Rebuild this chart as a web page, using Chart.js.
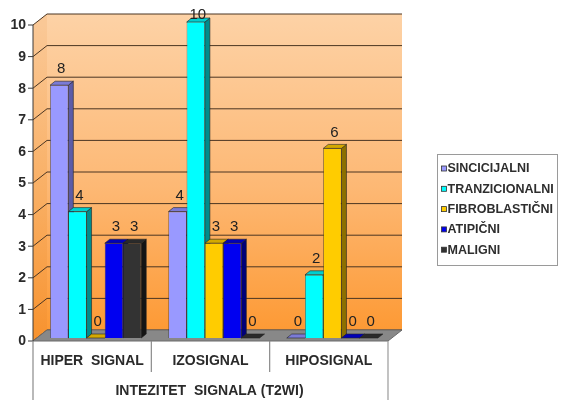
<!DOCTYPE html>
<html>
<head>
<meta charset="utf-8">
<script src="https://cdn.jsdelivr.net/npm/chart.js@4/dist/chart.umd.min.js"></script>
<style>
  html, body { margin: 0; padding: 0; background: #ffffff; }
  #wrap { width: 561px; height: 400px; }
</style>
</head>
<body>
<div id="wrap"><canvas id="c" width="561" height="400"></canvas></div>
<script>
// Categories, series and axis labels
const categories = ['HIPER  SIGNAL', 'IZOSIGNAL', 'HIPOSIGNAL'];
const seriesNames = ['SINCICIJALNI', 'TRANZICIONALNI', 'FIBROBLASTIČNI', 'ATIPIČNI', 'MALIGNI'];
const sincicijalni   = [8, 4, 0];
const tranzicionalni = [4, 10, 2];
const fibroblasticni = [0, 3, 6];
const atipicni       = [3, 3, 0];
const maligni        = [3, 0, 0];
const yTicks = [0, 1, 2, 3, 4, 5, 6, 7, 8, 9, 10];
const axisTitle = 'INTEZITET  SIGNALA (T2WI)';

// Face colours per series: front, top, side
const palette = [
  { front: '#9999FF', top: '#7B7BD6', side: '#5C5CA8' },
  { front: '#00FFFF', top: '#00CFCF', side: '#008C8C' },
  { front: '#FFCC00', top: '#D4A900', side: '#8C7000' },
  { front: '#0000F0', top: '#0000B8', side: '#000078' },
  { front: '#333333', top: '#2A2A2A', side: '#141414' }
];

const seriesValues = [sincicijalni, tranzicionalni, fibroblasticni, atipicni, maligni];

// 3D scene geometry (offsets relative to the bar plane)
const FRONT = { dx: -3.5, dy: 3 };
const BACK  = { dx: 10.5, dy: -8 };
const BAR_DEPTH = { dx: 5, dy: 4 };
const FONT = 'Arial, "Liberation Sans", sans-serif';

function poly(ctx, pts, fill, stroke, lw) {
  ctx.beginPath();
  ctx.moveTo(pts[0][0], pts[0][1]);
  for (let i = 1; i < pts.length; i++) ctx.lineTo(pts[i][0], pts[i][1]);
  ctx.closePath();
  if (fill) { ctx.fillStyle = fill; ctx.fill(); }
  if (stroke) { ctx.strokeStyle = stroke; ctx.lineWidth = lw || 1; ctx.stroke(); }
}

function line(ctx, x1, y1, x2, y2, color, lw) {
  ctx.beginPath();
  ctx.moveTo(x1, y1);
  ctx.lineTo(x2, y2);
  ctx.strokeStyle = color;
  ctx.lineWidth = lw || 1;
  ctx.stroke();
}

const scenePlugin = {
  id: 'scene3d',
  beforeDatasetsDraw(chart) {
    const ctx = chart.ctx;
    const area = chart.chartArea;
    const ys = chart.scales.y;
    const xs = chart.scales.x;
    const fy = v => ys.getPixelForValue(v) + FRONT.dy;
    const by = v => ys.getPixelForValue(v) + BACK.dy;
    const fxL = area.left + FRONT.dx, fxR = area.right + FRONT.dx;
    const bxL = area.left + BACK.dx,  bxR = area.right + BACK.dx;
    const yMax = yTicks[yTicks.length - 1];

    ctx.save();

    // back wall
    let g = ctx.createLinearGradient(0, by(yMax), 0, by(0));
    g.addColorStop(0, '#FDD2A6');
    g.addColorStop(0.55, '#FDB874');
    g.addColorStop(1, '#FD9A35');
    ctx.fillStyle = g;
    ctx.fillRect(bxL, by(yMax), bxR - bxL, by(0) - by(yMax));

    // left side wall
    g = ctx.createLinearGradient(0, fy(yMax), 0, fy(0));
    g.addColorStop(0, '#FAC896');
    g.addColorStop(0.55, '#F9AE62');
    g.addColorStop(1, '#F7922E');
    poly(ctx, [[fxL, fy(yMax)], [bxL, by(yMax)], [bxL, by(0)], [fxL, fy(0)]], g);

    // gridlines on both walls
    yTicks.forEach(v => {
      ctx.beginPath();
      ctx.moveTo(fxL, fy(v));
      ctx.lineTo(bxL, by(v));
      ctx.lineTo(bxR, by(v));
      ctx.strokeStyle = '#4A3522';
      ctx.lineWidth = 1;
      ctx.stroke();
    });

    // floor
    poly(ctx, [[fxL, fy(0)], [bxL, by(0)], [bxR, by(0)], [fxR, fy(0)]], '#888888', '#6A6A6A', 1);

    // value axis line, ticks and labels
    line(ctx, fxL, fy(yMax), fxL, fy(0), '#3A3A3A', 1);
    ctx.font = 'bold 14px ' + FONT;
    ctx.fillStyle = '#2A2A2A';
    ctx.textAlign = 'right';
    ctx.textBaseline = 'middle';
    yTicks.forEach(v => {
      line(ctx, fxL - 5, fy(v), fxL, fy(v), '#3A3A3A', 1);
      ctx.fillText(String(v), fxL - 7, fy(v) + 0.5);
    });

    // category frame below the floor
    const frameTop = fy(0);
    line(ctx, fxL, frameTop, fxL, 400, '#8A8A8A', 1.2);
    line(ctx, fxR, frameTop, fxR, 400, '#9A9A9A', 1.2);
    const step = (area.right - area.left) / categories.length;
    for (let i = 1; i < categories.length; i++) {
      const x = area.left + step * i + FRONT.dx;
      line(ctx, x, frameTop, x, frameTop + 31, '#8A8A8A', 1.2);
    }
    ctx.font = 'bold 14px ' + FONT;
    ctx.fillStyle = '#2A2A2A';
    ctx.textAlign = 'center';
    ctx.textBaseline = 'middle';
    categories.forEach((c, i) => {
      ctx.fillText(c, xs.getPixelForValue(i) + FRONT.dx, frameTop + 20);
    });
    ctx.fillText(axisTitle, (fxL + fxR) / 2 - 1, frameTop + 50);

    // side and top faces of every bar (front faces come from Chart.js)
    chart.data.datasets.forEach((ds, di) => {
      const meta = chart.getDatasetMeta(di);
      meta.data.forEach(bar => {
        const p = bar.getProps(['x', 'y', 'base', 'width'], true);
        const x0 = p.x - p.width / 2, x1 = p.x + p.width / 2;
        const top = Math.min(p.y, p.base), bottom = p.base;
        const c = palette[di];
        if (bottom - top > 0.5) {
          poly(ctx, [[x1, top], [x1 + BAR_DEPTH.dx, top - BAR_DEPTH.dy],
                     [x1 + BAR_DEPTH.dx, bottom - BAR_DEPTH.dy], [x1, bottom]],
               c.side, '#222222', 0.6);
        }
        poly(ctx, [[x0, top], [x1, top], [x1 + BAR_DEPTH.dx, top - BAR_DEPTH.dy],
                   [x0 + BAR_DEPTH.dx, top - BAR_DEPTH.dy]],
             c.top, '#222222', 0.6);
      });
    });
    ctx.restore();
  },
  afterDatasetsDraw(chart) {
    const ctx = chart.ctx;
    ctx.save();

    // value labels above the bars, kept inside the plot
    ctx.font = '15px ' + FONT;
    ctx.fillStyle = '#222222';
    ctx.textAlign = 'center';
    ctx.textBaseline = 'middle';
    chart.data.datasets.forEach((ds, di) => {
      const meta = chart.getDatasetMeta(di);
      meta.data.forEach((bar, i) => {
        const p = bar.getProps(['x', 'y', 'base'], true);
        const top = Math.min(p.y, p.base);
        ctx.fillText(String(ds.data[i]), p.x + 2, Math.max(top - 16, 15));
      });
    });

    // legend box
    const lx = 437.5, ly = 154.5, lw = 120, lh = 111;
    ctx.fillStyle = '#FFFFFF';
    ctx.fillRect(lx, ly, lw, lh);
    ctx.strokeStyle = '#9A9A9A';
    ctx.lineWidth = 1;
    ctx.strokeRect(lx, ly, lw, lh);
    ctx.font = 'bold 12.5px ' + FONT;
    ctx.textAlign = 'left';
    ctx.textBaseline = 'middle';
    chart.data.datasets.forEach((ds, di) => {
      const cy = 169 + di * 20.3;
      ctx.fillStyle = palette[di].front;
      ctx.fillRect(441.5, cy - 3, 5, 5);
      ctx.strokeStyle = '#333333';
      ctx.lineWidth = 0.8;
      ctx.strokeRect(441.5, cy - 3, 5, 5);
      ctx.fillStyle = '#2E2E2E';
      ctx.fillText(ds.label, 447.5, cy);
    });
    ctx.restore();
  }
};

const chart = new Chart(document.getElementById('c'), {
  type: 'bar',
  data: {
    labels: categories,
    datasets: seriesNames.map((name, i) => ({
      label: name,
      data: seriesValues[i],
      backgroundColor: palette[i].front,
      borderColor: '#222222',
      borderWidth: 0.6,
      categoryPercentage: 0.77,
      barPercentage: 1.0
    }))
  },
  options: {
    responsive: false,
    animation: false,
    layout: { padding: { left: 36.5, right: 169.5, top: 22, bottom: 62 } },
    scales: {
      x: { display: false },
      y: { display: false, min: 0, max: 10 }
    },
    plugins: {
      legend: { display: false },
      tooltip: { enabled: false }
    }
  },
  plugins: [scenePlugin]
});
</script>
</body>
</html>
